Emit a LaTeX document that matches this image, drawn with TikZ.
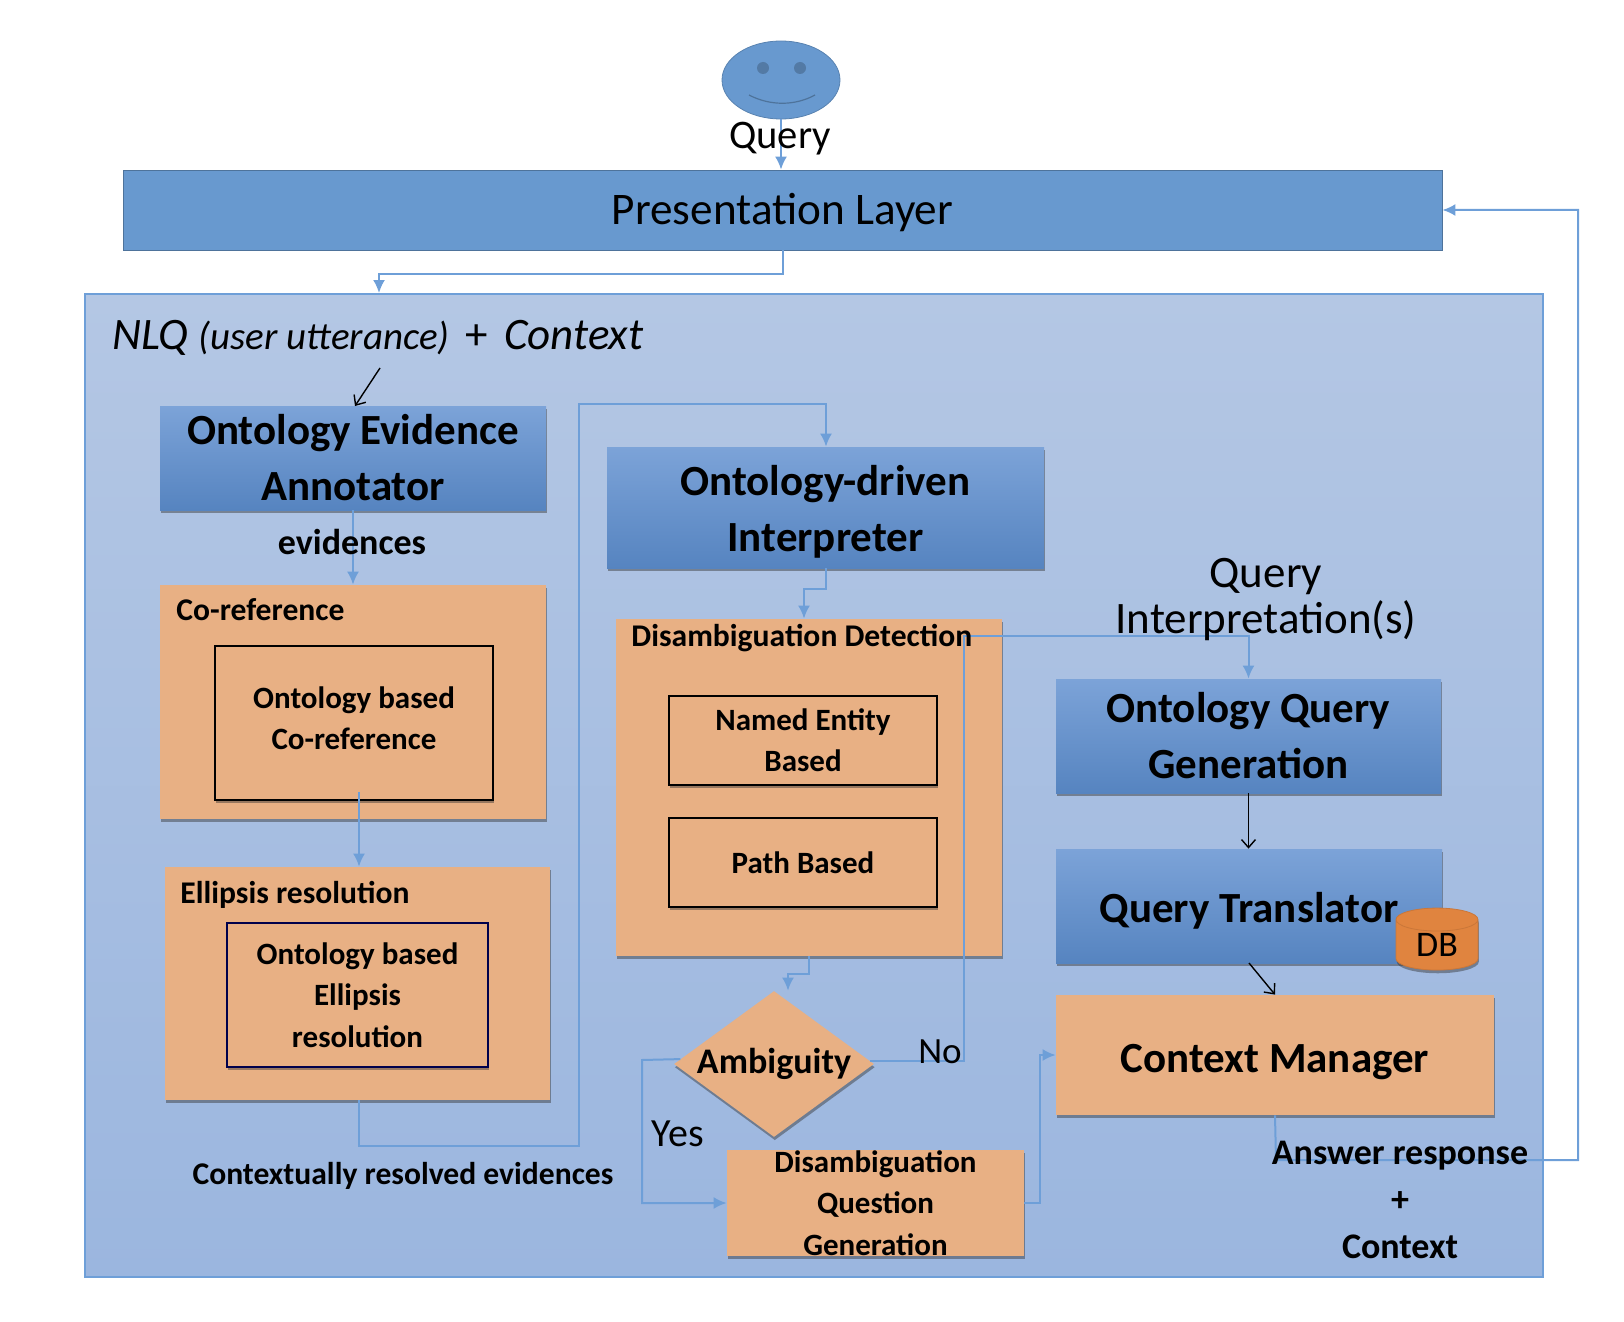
\documentclass[tikz,border=0pt]{standalone}
\usepackage{fontspec}
\setmainfont{Carlito}
\usetikzlibrary{shapes.geometric,shadows,arrows.meta}
\definecolor{facefill}{HTML}{6899CF}
\definecolor{linkblue}{HTML}{6E9FD8}
\definecolor{boxorange}{HTML}{E8B084}
\definecolor{dbfill}{HTML}{E0843F}
\definecolor{paneltop}{HTML}{B4C7E4}
\definecolor{panelbot}{HTML}{9BB6DF}
\definecolor{bluetop}{HTML}{7CA3D8}
\definecolor{bluemid}{HTML}{6396D6}
\definecolor{bluebot}{HTML}{5684C0}
\newcommand{\dropby}[1]{\rule{0pt}{#1}}
\newcommand{\liftby}[1]{\rule[-#1]{0pt}{1pt}}
\tikzset{
	softshadow/.style={drop shadow={shadow xshift=0.4pt,shadow yshift=-1.6pt,opacity=0.45,fill=black!80}},
	bluebox/.style={rectangle,top color=bluetop,middle color=bluemid,bottom color=bluebot,softshadow,align=center,font=\fontsize{21.5}{28}\bfseries\selectfont},
	orangebox/.style={rectangle,fill=boxorange,softshadow,align=center},
	innerbox/.style={rectangle,draw=black,line width=0.8pt,fill=boxorange,softshadow,align=center,font=\fontsize{15.5}{20.7}\bfseries\selectfont},
	boxtitle/.style={anchor=west,inner sep=0pt,font=\fontsize{15.8}{20}\bfseries\selectfont},
	flow/.style={draw=linkblue,line width=1pt,-{Latex[length=6.5pt,width=6pt]}},
	blackflow/.style={draw=black,line width=0.7pt,-{Straight Barb[length=4pt,width=7pt]}},
}
\begin{document}
\begin{tikzpicture}[x=0.5pt,y=-0.5pt]
	\useasboundingbox (0,0) rectangle (1624,1322);
	% outer panel and top bar
	\node[rectangle,draw=linkblue,line width=1pt,top color=paneltop,bottom color=panelbot,minimum width=729pt,minimum height=491.5pt,inner sep=0pt] (outer) at (814,785.5) {};
	\node[ellipse,draw=facefill!85!black,fill=facefill,minimum width=59pt,minimum height=39pt,inner sep=0pt] (smiley) at (781,80) {};
	\fill[facefill!80!black] (763,68) circle (6) (800,68) circle (6);
	\draw[facefill!75!black,line width=0.6pt] (749,95) .. controls (770,106) and (795,106) .. (815,95);
	\node[rectangle,draw=facefill!75!black,fill=facefill,minimum width=659.5pt,minimum height=40pt,inner sep=0pt,font=\fontsize{22.6}{24}\selectfont] (present) at (782.5,210) {\dropby{18.5pt}Presentation Layer};

	% boxes on the left
	\node[bluebox,minimum width=193pt,minimum height=52pt,inner sep=0pt] (evidence) at (353,458) {Ontology Evidence\\Annotator};
	\node[orangebox,minimum width=193pt,minimum height=117pt] (coref) at (353,702) {};
	\node[innerbox,minimum width=139pt,minimum height=77pt,inner sep=0pt] (corefin) at (354,723) {Ontology based\\Co-reference\liftby{5pt}};
	\node[orangebox,minimum width=192.5pt,minimum height=116.5pt] (ellipsis) at (357.5,983.5) {};
	\node[innerbox,draw=blue!30!black,minimum width=130.5pt,minimum height=72pt,inner sep=0pt] (ellipsisin) at (357.5,995) {Ontology based\\Ellipsis\\resolution};

	% middle column
	\node[bluebox,minimum width=218.5pt,minimum height=60.5pt,inner sep=0pt] (interpreter) at (825.5,507.5) {\dropby{19.7pt}Ontology-driven\\Interpreter};
	\node[orangebox,minimum width=193pt,minimum height=168.5pt] (detect) at (809,787.5) {};
	\node[innerbox,minimum width=134pt,minimum height=44.5pt,inner sep=0pt] (entity) at (803,740.5) {Named Entity\\Based};
	\node[innerbox,minimum width=134pt,minimum height=44.5pt,inner sep=0pt] (pathbased) at (803,862.5) {Path Based};
	\node[diamond,aspect=1.37,fill=boxorange,softshadow,minimum width=100pt,minimum height=73pt,inner sep=0pt,font=\fontsize{18}{20}\bfseries\selectfont] (ambiguity) at (774,1064) {Ambiguity};
	\node[orangebox,minimum width=148.5pt,minimum height=53pt,inner sep=0pt,font=\fontsize{15.5}{20.7}\bfseries\selectfont] (question) at (875.5,1203) {Disambiguation\\Question\\Generation};

	% right column
	\node[bluebox,minimum width=192.5pt,minimum height=57pt,inner sep=0pt] (querygen) at (1248.5,736) {Ontology Query\\Generation};
	\node[bluebox,minimum width=193pt,minimum height=57pt,inner sep=0pt] (translator) at (1249,906) {\dropby{19.7pt}Query Translator};
	\node[cylinder,shape border rotate=90,aspect=0.55,draw=dbfill!90!black,fill=dbfill,softshadow,minimum width=41pt,minimum height=31pt,inner sep=0pt,font=\fontsize{18}{20}\selectfont] (db) at (1437,945) {DB};
	\node[orangebox,minimum width=219pt,minimum height=60pt,inner sep=0pt,font=\fontsize{21.5}{24}\bfseries\selectfont] (manager) at (1275,1055) {\dropby{21pt}Context Manager};

	% connectors
	\coordinate (intotop) at (379,274);
	\draw[flow] (smiley.south) -- (smiley.south |- present.north);
	\draw[flow] (present.south) |- (intotop) -- (intotop |- outer.north);
	\coordinate (nlqstart) at (380,368);
	\draw[blackflow] (nlqstart) -- (355,406);
	\draw[flow] (evidence.south) -- (coref.north);
	\coordinate (corefout) at (359,792);
	\draw[flow] (corefout) -- (corefout |- ellipsis.north);
	\coordinate (ellipsisout) at (359,1146);
	\coordinate (riser) at (579,1146);
	\coordinate (overtop) at (579,404);
	\draw[flow] (ellipsisout |- ellipsis.south) -- (ellipsisout) -- (riser) -- (overtop) -| (interpreter.north -| 826,404);
	\coordinate (interdrop) at (804,589);
	\draw[flow] (interpreter.south) |- (interdrop) -- (interdrop |- detect.north);
	\coordinate (detectdrop) at (788,974);
	\draw[flow] (detect.south) |- (detectdrop) -- (detectdrop |- ambiguity.north);
	\coordinate (nocorner) at (964,636);
	\draw[flow] (ambiguity.2.5) -| (nocorner) -| (querygen.north);
	\coordinate (yescorner) at (642,1060);
	\draw[flow] (ambiguity.177.5) -- (yescorner) |- (question.west);
	\coordinate (tomanager) at (1040,1203);
	\draw[flow] (question.east) -- (tomanager) |- (manager.west);
	\draw[blackflow] (querygen.south) -- (querygen.south |- translator.north);
	\coordinate (transout) at (1249,963);
	\draw[blackflow] (transout) -- (manager.north);
	\coordinate (answerdrop) at (1276,1160);
	\coordinate (sideline) at (1578,1160);
	\draw[flow] (manager.south) -- (answerdrop) -- (sideline) |- (present.east);

	% texts
	\node[font=\fontsize{20.3}{22}\selectfont,inner sep=0pt] (querytext) at (780,139) {Query};
	\node[anchor=west,inner sep=0pt] (nlqtext) at (112,338) {\fontsize{22.5}{24}\itshape\selectfont NLQ {\fontsize{19.5}{24}\selectfont(user utterance)}\hspace*{3pt} {\upshape +}\hspace*{3pt} Context};
	\node[inner sep=0pt,font=\fontsize{18}{20}\bfseries\selectfont] (evidencetext) at (352,542) {evidences};
	\node[boxtitle] (coreftitle) at (176,610) {Co-reference};
	\node[boxtitle] (ellipsistitle) at (180,895) {Ellipsis resolution};
	\node[boxtitle] (detecttitle) at (631,638) {Disambiguation Detection};
	\node[inner sep=0pt,font=\fontsize{15.8}{20}\bfseries\selectfont] (resolvedtext) at (403,1176) {Contextually resolved evidences};
	\node[inner sep=0pt,align=center,font=\fontsize{22.5}{23}\selectfont] (interptext) at (1266,600) {Query\\Interpretation(s)};
	\node[inner sep=0pt,font=\fontsize{20}{20}\selectfont] (yestext) at (678,1134) {Yes};
	\node[inner sep=0pt,font=\fontsize{18.5}{20}\selectfont] (notext) at (940,1052) {No};
	\node[inner sep=0pt,align=center,font=\fontsize{18}{23.5}\bfseries\selectfont] (answertext) at (1400,1200) {Answer response\\+\\Context};
\end{tikzpicture}
\end{document}
